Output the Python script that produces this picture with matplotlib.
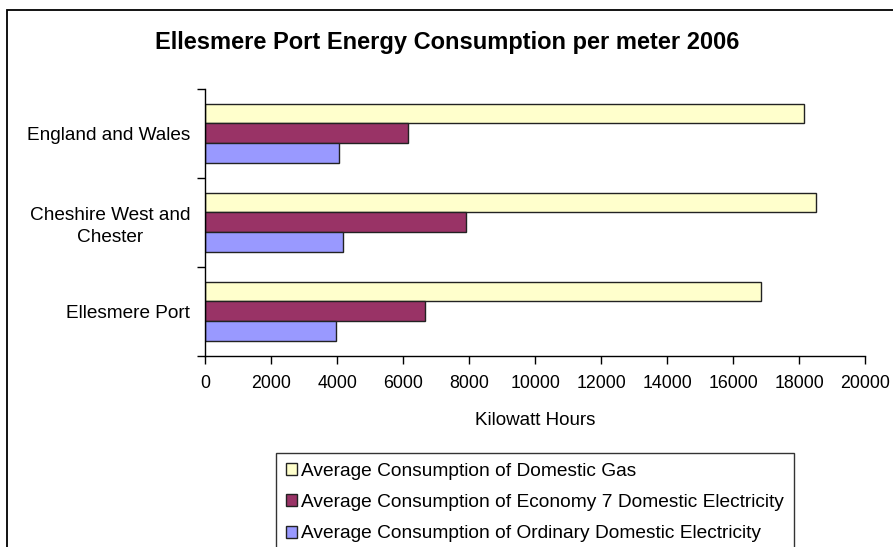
import matplotlib
matplotlib.use("Agg")
import matplotlib.pyplot as plt
from matplotlib.patches import Rectangle, Patch
import numpy as np

plt.rcParams['font.family'] = ['Liberation Sans', 'DejaVu Sans']

categories = ["Ellesmere Port", "Cheshire West and\nChester", "England and Wales"]
gas = [16860, 18520, 18160]
economy7 = [6650, 7890, 6140]
ordinary = [3950, 4165, 4045]
series_names = ["Average Consumption of Domestic Gas",
                "Average Consumption of Economy 7 Domestic Electricity",
                "Average Consumption of Ordinary Domestic Electricity"]
colors = ["#FFFFCC", "#993366", "#9999FF"]
xticks = [0, 2000, 4000, 6000, 8000, 10000, 12000, 14000, 16000, 18000, 20000]

W, H = 893, 547
fig = plt.figure(figsize=(W/100, H/100), dpi=100)
fig.patch.set_facecolor("white")

# outer chart border (cut off on right and bottom)
fig.add_artist(Rectangle((7/W, -0.05), 1.1, 1.05 - 10/H, transform=fig.transFigure,
                         fill=False, edgecolor="black", linewidth=1.3, clip_on=False))

ax = fig.add_axes([205.3/W, 1-355.7/H, (865-205.3)/W, (355.7-88.7)/H])
y = np.arange(len(categories))
h = 1/4.5
for vals, off, col, name in zip([gas, economy7, ordinary], [h, 0, -h], colors, series_names):
    ax.barh(y + off, vals, height=h, color=col, edgecolor="#222222", linewidth=1.0, label=name)

ax.set_xlim(0, 20000)
ax.set_ylim(-0.5, 2.5)
ax.set_xticks(xticks)
ax.set_xticklabels([str(v) for v in xticks], fontsize=12.8)
ax.tick_params(axis='x', direction='out', length=6, width=1, pad=8, colors='black')
ax.set_yticks([-0.5, 0.5, 1.5, 2.5])
ax.set_yticklabels([])
ax.tick_params(axis='y', which='major', direction='out', length=6, width=1)
ax.set_yticks(y, minor=True)
ax.set_yticklabels(categories, minor=True, fontsize=13.7)
ax.tick_params(axis='y', which='minor', length=0, pad=11)
for lab in ax.get_yticklabels(minor=True):
    lab.set_multialignment('center')
    lab.set_linespacing(1.4)
for s in ['top', 'right']:
    ax.spines[s].set_visible(False)
for s in ['left', 'bottom']:
    ax.spines[s].set_color('black')
    ax.spines[s].set_linewidth(1)
ax.set_xlabel("Kilowatt Hours", fontsize=13.5, labelpad=14)

fig.text(447/W, 1-42/H, "Ellesmere Port Energy Consumption per meter 2006",
         ha='center', va='center', fontsize=17, fontweight='bold')

handles = [Patch(facecolor=c, edgecolor="#222222", linewidth=1.0) for c in colors]
leg = fig.legend(handles, series_names, loc='upper left', bbox_to_anchor=(276/W, 1-453/H),
                 fontsize=13.8, frameon=True, fancybox=False, shadow=False,
                 handlelength=0.58, handleheight=0.58, handletextpad=0.25,
                 labelspacing=0.75, borderpad=0.5, borderaxespad=0)
leg.get_frame().set_edgecolor('black')
leg.get_frame().set_linewidth(1)

fig.savefig("out.png", dpi=100, facecolor="white")
